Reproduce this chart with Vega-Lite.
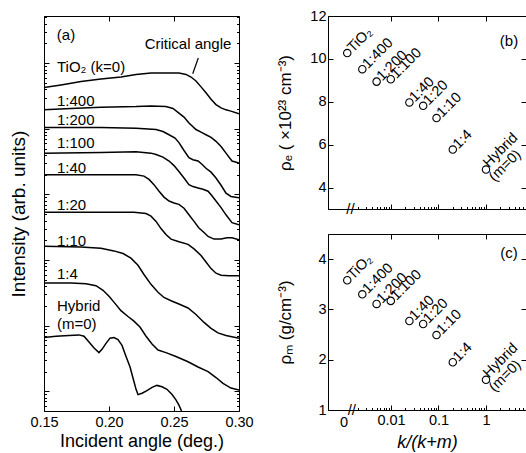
{
  "$schema": "https://vega.github.io/schema/vega-lite/v6.json",
  "padding": {"left": 8, "top": 7, "right": 0, "bottom": 0},
  "bounds": "flush",
  "spacing": 89,
  "config": {
    "font": "Liberation Sans",
    "view": {"stroke": "black", "strokeWidth": 1},
    "axis": {"grid": false, "domainColor": "black", "tickColor": "black", "labelColor": "black", "titleColor": "black", "labelFont": "Liberation Sans", "titleFont": "Liberation Sans", "titleFontWeight": "normal", "labelFontSize": 14.5, "tickSize": -5, "labelFlush": false}
  },
  "datasets": {
    "curves": [
      {"sample":"TiO2","angle":0.15,"logI":4.63},{"sample":"TiO2","angle":0.1631,"logI":4.67},{"sample":"TiO2","angle":0.1785,"logI":4.72},{"sample":"TiO2","angle":0.1938,"logI":4.76},{"sample":"TiO2","angle":0.2092,"logI":4.79},{"sample":"TiO2","angle":0.2208,"logI":4.83},{"sample":"TiO2","angle":0.2323,"logI":4.85},{"sample":"TiO2","angle":0.2462,"logI":4.85},{"sample":"TiO2","angle":0.2538,"logI":4.85},{"sample":"TiO2","angle":0.2592,"logI":4.83},{"sample":"TiO2","angle":0.2631,"logI":4.79},{"sample":"TiO2","angle":0.2669,"logI":4.73},{"sample":"TiO2","angle":0.2708,"logI":4.64},{"sample":"TiO2","angle":0.2746,"logI":4.55},{"sample":"TiO2","angle":0.2785,"logI":4.45},{"sample":"TiO2","angle":0.2823,"logI":4.37},{"sample":"TiO2","angle":0.2862,"logI":4.32},{"sample":"TiO2","angle":0.29,"logI":4.29},{"sample":"TiO2","angle":0.2938,"logI":4.27},{"sample":"TiO2","angle":0.30,"logI":4.23},
      {"sample":"1:400","angle":0.15,"logI":4.29},{"sample":"1:400","angle":0.1708,"logI":4.31},{"sample":"1:400","angle":0.1938,"logI":4.33},{"sample":"1:400","angle":0.2208,"logI":4.34},{"sample":"1:400","angle":0.2323,"logI":4.35},{"sample":"1:400","angle":0.2438,"logI":4.34},{"sample":"1:400","angle":0.2492,"logI":4.31},{"sample":"1:400","angle":0.2538,"logI":4.24},{"sample":"1:400","angle":0.2577,"logI":4.18},{"sample":"1:400","angle":0.2615,"logI":4.09},{"sample":"1:400","angle":0.2669,"logI":3.99},{"sample":"1:400","angle":0.2708,"logI":3.95},{"sample":"1:400","angle":0.2746,"logI":3.91},{"sample":"1:400","angle":0.2785,"logI":3.87},{"sample":"1:400","angle":0.2823,"logI":3.81},{"sample":"1:400","angle":0.2862,"logI":3.73},{"sample":"1:400","angle":0.29,"logI":3.63},{"sample":"1:400","angle":0.2946,"logI":3.51},{"sample":"1:400","angle":0.30,"logI":3.48},
      {"sample":"1:200","angle":0.15,"logI":4.02},{"sample":"1:200","angle":0.1938,"logI":4.02},{"sample":"1:200","angle":0.2208,"logI":4.01},{"sample":"1:200","angle":0.2362,"logI":3.99},{"sample":"1:200","angle":0.2415,"logI":3.96},{"sample":"1:200","angle":0.2462,"logI":3.91},{"sample":"1:200","angle":0.2508,"logI":3.86},{"sample":"1:200","angle":0.2538,"logI":3.79},{"sample":"1:200","angle":0.2577,"logI":3.67},{"sample":"1:200","angle":0.2615,"logI":3.56},{"sample":"1:200","angle":0.2646,"logI":3.53},{"sample":"1:200","angle":0.2685,"logI":3.51},{"sample":"1:200","angle":0.2715,"logI":3.46},{"sample":"1:200","angle":0.2746,"logI":3.40},{"sample":"1:200","angle":0.2785,"logI":3.34},{"sample":"1:200","angle":0.2823,"logI":3.25},{"sample":"1:200","angle":0.2862,"logI":3.14},{"sample":"1:200","angle":0.29,"logI":3.02},{"sample":"1:200","angle":0.2938,"logI":2.97},{"sample":"1:200","angle":0.30,"logI":2.95},
      {"sample":"1:100","angle":0.15,"logI":3.63},{"sample":"1:100","angle":0.1938,"logI":3.64},{"sample":"1:100","angle":0.2208,"logI":3.65},{"sample":"1:100","angle":0.2323,"logI":3.63},{"sample":"1:100","angle":0.2362,"logI":3.61},{"sample":"1:100","angle":0.2415,"logI":3.57},{"sample":"1:100","angle":0.2462,"logI":3.51},{"sample":"1:100","angle":0.25,"logI":3.44},{"sample":"1:100","angle":0.2538,"logI":3.35},{"sample":"1:100","angle":0.2577,"logI":3.25},{"sample":"1:100","angle":0.2615,"logI":3.15},{"sample":"1:100","angle":0.2646,"logI":3.12},{"sample":"1:100","angle":0.2685,"logI":3.10},{"sample":"1:100","angle":0.2723,"logI":3.08},{"sample":"1:100","angle":0.2762,"logI":3.05},{"sample":"1:100","angle":0.2792,"logI":2.98},{"sample":"1:100","angle":0.2823,"logI":2.90},{"sample":"1:100","angle":0.2862,"logI":2.80},{"sample":"1:100","angle":0.29,"logI":2.69},{"sample":"1:100","angle":0.2946,"logI":2.57},{"sample":"1:100","angle":0.30,"logI":2.54},
      {"sample":"1:40","angle":0.15,"logI":3.30},{"sample":"1:40","angle":0.1938,"logI":3.30},{"sample":"1:40","angle":0.2208,"logI":3.30},{"sample":"1:40","angle":0.2269,"logI":3.28},{"sample":"1:40","angle":0.2308,"logI":3.23},{"sample":"1:40","angle":0.2346,"logI":3.15},{"sample":"1:40","angle":0.2385,"logI":3.05},{"sample":"1:40","angle":0.2423,"logI":2.96},{"sample":"1:40","angle":0.2462,"logI":2.90},{"sample":"1:40","angle":0.25,"logI":2.87},{"sample":"1:40","angle":0.2538,"logI":2.85},{"sample":"1:40","angle":0.2577,"logI":2.79},{"sample":"1:40","angle":0.2615,"logI":2.69},{"sample":"1:40","angle":0.2654,"logI":2.59},{"sample":"1:40","angle":0.2692,"logI":2.49},{"sample":"1:40","angle":0.2731,"logI":2.42},{"sample":"1:40","angle":0.2762,"logI":2.36},{"sample":"1:40","angle":0.2808,"logI":2.32},{"sample":"1:40","angle":0.2862,"logI":2.32},{"sample":"1:40","angle":0.2908,"logI":2.34},{"sample":"1:40","angle":0.2946,"logI":2.34},{"sample":"1:40","angle":0.30,"logI":2.31},
      {"sample":"1:20","angle":0.15,"logI":2.73},{"sample":"1:20","angle":0.1938,"logI":2.73},{"sample":"1:20","angle":0.2192,"logI":2.73},{"sample":"1:20","angle":0.2285,"logI":2.71},{"sample":"1:20","angle":0.2323,"logI":2.67},{"sample":"1:20","angle":0.2362,"logI":2.59},{"sample":"1:20","angle":0.24,"logI":2.48},{"sample":"1:20","angle":0.2438,"logI":2.39},{"sample":"1:20","angle":0.2477,"logI":2.32},{"sample":"1:20","angle":0.2538,"logI":2.28},{"sample":"1:20","angle":0.2608,"logI":2.24},{"sample":"1:20","angle":0.2654,"logI":2.17},{"sample":"1:20","angle":0.2708,"logI":2.07},{"sample":"1:20","angle":0.2746,"logI":1.97},{"sample":"1:20","angle":0.2785,"logI":1.87},{"sample":"1:20","angle":0.2823,"logI":1.80},{"sample":"1:20","angle":0.2862,"logI":1.77},{"sample":"1:20","angle":0.2923,"logI":1.76},{"sample":"1:20","angle":0.30,"logI":1.76},
      {"sample":"1:10","angle":0.15,"logI":2.21},{"sample":"1:10","angle":0.1785,"logI":2.20},{"sample":"1:10","angle":0.1938,"logI":2.18},{"sample":"1:10","angle":0.2038,"logI":2.14},{"sample":"1:10","angle":0.2108,"logI":2.10},{"sample":"1:10","angle":0.2169,"logI":2.03},{"sample":"1:10","angle":0.2223,"logI":1.92},{"sample":"1:10","angle":0.2269,"logI":1.78},{"sample":"1:10","angle":0.2323,"logI":1.63},{"sample":"1:10","angle":0.2377,"logI":1.51},{"sample":"1:10","angle":0.2423,"logI":1.43},{"sample":"1:10","angle":0.2477,"logI":1.38},{"sample":"1:10","angle":0.2538,"logI":1.33},{"sample":"1:10","angle":0.2608,"logI":1.27},{"sample":"1:10","angle":0.2669,"logI":1.17},{"sample":"1:10","angle":0.2731,"logI":1.05},{"sample":"1:10","angle":0.2785,"logI":0.96},{"sample":"1:10","angle":0.2838,"logI":0.89},{"sample":"1:10","angle":0.29,"logI":0.85},{"sample":"1:10","angle":0.30,"logI":0.81},
      {"sample":"1:4","angle":0.15,"logI":1.65},{"sample":"1:4","angle":0.1708,"logI":1.65},{"sample":"1:4","angle":0.1823,"logI":1.64},{"sample":"1:4","angle":0.19,"logI":1.61},{"sample":"1:4","angle":0.1954,"logI":1.54},{"sample":"1:4","angle":0.2,"logI":1.45},{"sample":"1:4","angle":0.2046,"logI":1.34},{"sample":"1:4","angle":0.2092,"logI":1.23},{"sample":"1:4","angle":0.2146,"logI":1.14},{"sample":"1:4","angle":0.2192,"logI":1.07},{"sample":"1:4","angle":0.2238,"logI":0.98},{"sample":"1:4","angle":0.2285,"logI":0.84},{"sample":"1:4","angle":0.2331,"logI":0.72},{"sample":"1:4","angle":0.2377,"logI":0.63},{"sample":"1:4","angle":0.2438,"logI":0.59},{"sample":"1:4","angle":0.2515,"logI":0.53},{"sample":"1:4","angle":0.2608,"logI":0.45},{"sample":"1:4","angle":0.2685,"logI":0.37},{"sample":"1:4","angle":0.2762,"logI":0.30},{"sample":"1:4","angle":0.2823,"logI":0.21},{"sample":"1:4","angle":0.2877,"logI":0.12},{"sample":"1:4","angle":0.2938,"logI":0.05},{"sample":"1:4","angle":0.30,"logI":0.02},
      {"sample":"Hybrid","angle":0.15,"logI":0.82},{"sample":"Hybrid","angle":0.1592,"logI":0.84},{"sample":"Hybrid","angle":0.1692,"logI":0.85},{"sample":"Hybrid","angle":0.1769,"logI":0.86},{"sample":"Hybrid","angle":0.1808,"logI":0.84},{"sample":"Hybrid","angle":0.1846,"logI":0.75},{"sample":"Hybrid","angle":0.1885,"logI":0.66},{"sample":"Hybrid","angle":0.1923,"logI":0.59},{"sample":"Hybrid","angle":0.1946,"logI":0.64},{"sample":"Hybrid","angle":0.1977,"logI":0.73},{"sample":"Hybrid","angle":0.2008,"logI":0.81},{"sample":"Hybrid","angle":0.2038,"logI":0.82},{"sample":"Hybrid","angle":0.2069,"logI":0.79},{"sample":"Hybrid","angle":0.21,"logI":0.70},{"sample":"Hybrid","angle":0.2131,"logI":0.53},{"sample":"Hybrid","angle":0.2162,"logI":0.37},{"sample":"Hybrid","angle":0.2185,"logI":0.20},{"sample":"Hybrid","angle":0.2208,"logI":0.03},{"sample":"Hybrid","angle":0.2223,"logI":-0.05},{"sample":"Hybrid","angle":0.2254,"logI":-0.03},{"sample":"Hybrid","angle":0.2292,"logI":0.01},{"sample":"Hybrid","angle":0.2331,"logI":0.06},{"sample":"Hybrid","angle":0.2369,"logI":0.09},{"sample":"Hybrid","angle":0.2408,"logI":0.07},{"sample":"Hybrid","angle":0.2446,"logI":0.03},{"sample":"Hybrid","angle":0.2485,"logI":-0.05},{"sample":"Hybrid","angle":0.2515,"logI":-0.13},{"sample":"Hybrid","angle":0.2538,"logI":-0.21},{"sample":"Hybrid","angle":0.2558,"logI":-0.30}
    ],
    "alabels": [
      {"angle":0.16,"logI":4.95,"label":"TiO₂ (k=0)"},
      {"angle":0.16,"logI":4.43,"label":"1:400"},
      {"angle":0.16,"logI":4.14,"label":"1:200"},
      {"angle":0.16,"logI":3.78,"label":"1:100"},
      {"angle":0.16,"logI":3.40,"label":"1:40"},
      {"angle":0.16,"logI":2.84,"label":"1:20"},
      {"angle":0.16,"logI":2.29,"label":"1:10"},
      {"angle":0.16,"logI":1.79,"label":"1:4"},
      {"angle":0.16,"logI":1.30,"label":"Hybrid"},
      {"angle":0.16,"logI":1.02,"label":"(m=0)"}
    ],
    "dens": [
      {"sample":"TiO2","kfrac":0.0012,"rho_e":10.27,"rho_m":3.58,"label":"TiO₂"},
      {"sample":"1:400","kfrac":0.00249,"rho_e":9.52,"rho_m":3.30,"label":"\u00a01:400"},
      {"sample":"1:200","kfrac":0.00498,"rho_e":8.94,"rho_m":3.11,"label":"\u00a01:200"},
      {"sample":"1:100","kfrac":0.0099,"rho_e":9.05,"rho_m":3.17,"label":"1:100"},
      {"sample":"1:40","kfrac":0.0244,"rho_e":7.97,"rho_m":2.77,"label":"1:40"},
      {"sample":"1:20","kfrac":0.0476,"rho_e":7.81,"rho_m":2.71,"label":"1:20"},
      {"sample":"1:10","kfrac":0.0909,"rho_e":7.24,"rho_m":2.49,"label":"1:10"},
      {"sample":"1:4","kfrac":0.2,"rho_e":5.77,"rho_m":1.95,"label":"1:4"},
      {"sample":"Hybrid","kfrac":1,"rho_e":4.84,"rho_m":1.60,"label":"","label2":"(m=0)"}
    ],
    "hyb": [
      {"kfrac":1,"rho_e":4.84,"rho_m":1.60,"label":"Hybrid"}
    ]
  },
  "hconcat": [
    {
      "width": 195,
      "height": 395,
      "resolve": {"axis": {"x": "independent", "y": "independent"}},
      "layer": [
        {
          "data": {"name": "curves"},
          "mark": {"type": "line", "stroke": "black", "strokeWidth": 1.5, "clip": true},
          "encoding": {
            "x": {"field": "angle", "type": "quantitative", "scale": {"domain": [0.15, 0.30], "nice": false, "zero": false},
                  "axis": {"values": [0.15, 0.2, 0.25, 0.3], "format": ".2f", "title": "Incident angle (deg.)", "titleFontSize": 18, "labelPadding": 9, "titlePadding": 4}},
            "y": {"field": "logI", "type": "quantitative", "scale": {"domain": [-0.3, 5.72], "nice": false, "zero": false},
                  "axis": {"values": [-0.222,-0.155,-0.097,-0.046,0,0.301,0.477,0.602,0.699,0.778,0.845,0.903,0.954,1,1.301,1.477,1.602,1.699,1.778,1.845,1.903,1.954,2,2.301,2.477,2.602,2.699,2.778,2.845,2.903,2.954,3,3.301,3.477,3.602,3.699,3.778,3.845,3.903,3.954,4,4.301,4.477,4.602,4.699,4.778,4.845,4.903,4.954,5,5.301,5.477,5.602,5.699],
                           "labels": false, "title": "Intensity (arb. units)", "titleFontSize": 19, "minExtent": 0, "maxExtent": 0, "titlePadding": 16,
                           "tickSize": {"condition": {"test": "round(datum.value) == datum.value", "value": -5}, "value": -2.5}}},
            "detail": {"field": "sample"}
          }
        },
        {
          "data": {"name": "curves"},
          "mark": {"type": "point", "opacity": 0},
          "encoding": {
            "x": {"field": "angle", "type": "quantitative", "axis": {"orient": "top", "values": [0.15, 0.2, 0.25, 0.3], "labels": false, "title": null, "domain": false}},
            "y": {"field": "logI", "type": "quantitative", "axis": {"orient": "right", "values": [-0.222,-0.155,-0.097,-0.046,0,0.301,0.477,0.602,0.699,0.778,0.845,0.903,0.954,1,1.301,1.477,1.602,1.699,1.778,1.845,1.903,1.954,2,2.301,2.477,2.602,2.699,2.778,2.845,2.903,2.954,3,3.301,3.477,3.602,3.699,3.778,3.845,3.903,3.954,4,4.301,4.477,4.602,4.699,4.778,4.845,4.903,4.954,5,5.301,5.477,5.602,5.699], "labels": false, "title": null, "domain": false,
                  "tickSize": {"condition": {"test": "round(datum.value) == datum.value", "value": -5}, "value": -2.5}}}
          }
        },
        {
          "data": {"name": "alabels"},
          "mark": {"type": "text", "align": "left", "baseline": "middle", "fontSize": 15, "font": "Liberation Sans"},
          "encoding": {
            "x": {"field": "angle", "type": "quantitative", "axis": null},
            "y": {"field": "logI", "type": "quantitative", "axis": null},
            "text": {"field": "label"}
          }
        },
        {
          "data": {"values": [{"angle": 0.1669, "logI": 5.43, "label": "(a)"}, {"angle": 0.2608, "logI": 5.30, "label": "Critical angle"}]},
          "mark": {"type": "text", "align": "center", "baseline": "middle", "fontSize": 15, "font": "Liberation Sans"},
          "encoding": {
            "x": {"field": "angle", "type": "quantitative", "axis": null},
            "y": {"field": "logI", "type": "quantitative", "axis": null},
            "text": {"field": "label"}
          }
        },
        {
          "data": {"values": [{"angle": 0.2687, "logI": 5.08, "angle2": 0.2644, "logI2": 4.84}]},
          "mark": {"type": "rule", "stroke": "black", "strokeWidth": 1.2},
          "encoding": {
            "x": {"field": "angle", "type": "quantitative", "axis": null},
            "y": {"field": "logI", "type": "quantitative", "axis": null},
            "x2": {"field": "angle2"},
            "y2": {"field": "logI2"}
          }
        }
      ]
    },
    {
      "vconcat": [
        {
          "width": 198,
          "height": 193,
          "resolve": {"axis": {"x": "independent", "y": "independent"}},
          "layer": [
            {
              "data": {"name": "dens"},
              "mark": {"type": "point", "shape": "circle", "filled": false, "stroke": "black", "strokeWidth": 1.1, "size": 55, "opacity": 1},
              "encoding": {
                "x": {"field": "kfrac", "type": "quantitative", "scale": {"type": "log", "domain": [0.000472, 6.95], "nice": false},
                      "axis": {"values": [0.001,0.002,0.003,0.004,0.005,0.006,0.007,0.008,0.009,0.01,0.02,0.03,0.04,0.05,0.06,0.07,0.08,0.09,0.1,0.2,0.3,0.4,0.5,0.6,0.7,0.8,0.9,1,2,3,4,5,6],
                               "labels": false, "title": null,
                               "tickSize": {"condition": {"test": "indexof([0.01,0.1,1], datum.value) >= 0", "value": -5}, "value": -2.5},
                               "tickOpacity": {"condition": {"test": "datum.value == 0.001", "value": 0}, "value": 1}}},
                "y": {"field": "rho_e", "type": "quantitative", "scale": {"domain": [3, 12], "nice": false, "zero": false},
                      "axis": {"values": [4, 6, 8, 10, 12], "title": "ρₑ ( ×10²³ cm⁻³)", "titleFontSize": 17, "minExtent": 22, "maxExtent": 22, "titlePadding": 12, "labelPadding": 7}}
              }
            },
            {
              "data": {"name": "dens"},
              "mark": {"type": "point", "opacity": 0},
              "encoding": {
                "x": {"field": "kfrac", "type": "quantitative", "axis": {"orient": "top", "values": [0.01, 0.1, 1], "labels": false, "title": null, "domain": false}},
                "y": {"field": "rho_e", "type": "quantitative", "axis": {"orient": "right", "values": [4, 6, 8, 10, 12], "labels": false, "title": null, "domain": false}}
              }
            },
            {
              "data": {"name": "dens"},
              "mark": {"type": "text", "angle": 315, "align": "left", "baseline": "middle", "dx": 4, "fontSize": 14.5, "font": "Liberation Sans"},
              "encoding": {
                "x": {"field": "kfrac", "type": "quantitative", "axis": null},
                "y": {"field": "rho_e", "type": "quantitative", "axis": null},
                "text": {"field": "label"}
              }
            },
            {
              "data": {"name": "hyb"},
              "mark": {"type": "text", "angle": 315, "align": "left", "baseline": "middle", "dx": 3, "dy": -3, "fontSize": 14.5, "font": "Liberation Sans"},
              "encoding": {
                "x": {"field": "kfrac", "type": "quantitative", "axis": null},
                "y": {"field": "rho_e", "type": "quantitative", "axis": null},
                "text": {"field": "label"}
              }
            },
            {
              "data": {"name": "dens"},
              "transform": [{"filter": "datum.label2 != null"}],
              "mark": {"type": "text", "angle": 315, "align": "left", "baseline": "middle", "dx": -3, "dy": 11, "fontSize": 14.5, "font": "Liberation Sans"},
              "encoding": {
                "x": {"field": "kfrac", "type": "quantitative", "axis": null},
                "y": {"field": "rho_e", "type": "quantitative", "axis": null},
                "text": {"field": "label2"}
              }
            },
            {
              "data": {"values": [{"kfrac": 0.0014, "rho_e": 3, "label": "//"}, {"kfrac": 3.05, "rho_e": 10.85, "label": "(b)"}]},
              "mark": {"type": "text", "align": "center", "baseline": "middle", "fontSize": 15, "font": "Liberation Sans"},
              "encoding": {
                "x": {"field": "kfrac", "type": "quantitative", "axis": null},
                "y": {"field": "rho_e", "type": "quantitative", "axis": null},
                "text": {"field": "label"}
              }
            }
          ]
        },
        {
          "width": 198,
          "height": 176,
          "resolve": {"axis": {"x": "independent", "y": "independent"}},
          "layer": [
            {
              "data": {"name": "dens"},
              "mark": {"type": "point", "shape": "circle", "filled": false, "stroke": "black", "strokeWidth": 1.1, "size": 55, "opacity": 1},
              "encoding": {
                "x": {"field": "kfrac", "type": "quantitative", "scale": {"type": "log", "domain": [0.000472, 6.95], "nice": false},
                      "axis": {"values": [0.001,0.002,0.003,0.004,0.005,0.006,0.007,0.008,0.009,0.01,0.02,0.03,0.04,0.05,0.06,0.07,0.08,0.09,0.1,0.2,0.3,0.4,0.5,0.6,0.7,0.8,0.9,1,2,3,4,5,6],
                               "labelExpr": "datum.value == 0.001 ? '0' : datum.value == 0.01 ? '0.01' : datum.value == 0.1 ? '0.1' : datum.value == 1 ? '1' : ''",
                               "title": "k/(k+m)", "titleFontSize": 18, "titleFontStyle": "italic", "labelPadding": 8, "titlePadding": 4,
                               "tickSize": {"condition": {"test": "indexof([0.01,0.1,1], datum.value) >= 0", "value": -5}, "value": -2.5},
                               "tickOpacity": {"condition": {"test": "datum.value == 0.001", "value": 0}, "value": 1}}},
                "y": {"field": "rho_m", "type": "quantitative", "scale": {"domain": [1, 4.5], "nice": false, "zero": false},
                      "axis": {"values": [1, 2, 3, 4], "title": "ρₘ  (g/cm⁻³)", "titleFontSize": 17, "minExtent": 22, "maxExtent": 22, "titlePadding": 12, "labelPadding": 7}}
              }
            },
            {
              "data": {"name": "dens"},
              "mark": {"type": "point", "opacity": 0},
              "encoding": {
                "x": {"field": "kfrac", "type": "quantitative", "axis": {"orient": "top", "values": [0.01, 0.1, 1], "labels": false, "title": null, "domain": false}},
                "y": {"field": "rho_m", "type": "quantitative", "axis": {"orient": "right", "values": [1, 2, 3, 4], "labels": false, "title": null, "domain": false}}
              }
            },
            {
              "data": {"name": "dens"},
              "mark": {"type": "text", "angle": 315, "align": "left", "baseline": "middle", "dx": 4, "fontSize": 14.5, "font": "Liberation Sans"},
              "encoding": {
                "x": {"field": "kfrac", "type": "quantitative", "axis": null},
                "y": {"field": "rho_m", "type": "quantitative", "axis": null},
                "text": {"field": "label"}
              }
            },
            {
              "data": {"name": "hyb"},
              "mark": {"type": "text", "angle": 315, "align": "left", "baseline": "middle", "dx": 3, "dy": -3, "fontSize": 14.5, "font": "Liberation Sans"},
              "encoding": {
                "x": {"field": "kfrac", "type": "quantitative", "axis": null},
                "y": {"field": "rho_m", "type": "quantitative", "axis": null},
                "text": {"field": "label"}
              }
            },
            {
              "data": {"name": "dens"},
              "transform": [{"filter": "datum.label2 != null"}],
              "mark": {"type": "text", "angle": 315, "align": "left", "baseline": "middle", "dx": -3, "dy": 11, "fontSize": 14.5, "font": "Liberation Sans"},
              "encoding": {
                "x": {"field": "kfrac", "type": "quantitative", "axis": null},
                "y": {"field": "rho_m", "type": "quantitative", "axis": null},
                "text": {"field": "label2"}
              }
            },
            {
              "data": {"values": [{"kfrac": 0.0015, "rho_m": 1, "label": "//"}, {"kfrac": 3.05, "rho_m": 4.12, "label": "(c)"}]},
              "mark": {"type": "text", "align": "center", "baseline": "middle", "fontSize": 15, "font": "Liberation Sans"},
              "encoding": {
                "x": {"field": "kfrac", "type": "quantitative", "axis": null},
                "y": {"field": "rho_m", "type": "quantitative", "axis": null},
                "text": {"field": "label"}
              }
            }
          ]
        }
      ],
      "spacing": 25,
      "bounds": "flush"
    }
  ]
}
